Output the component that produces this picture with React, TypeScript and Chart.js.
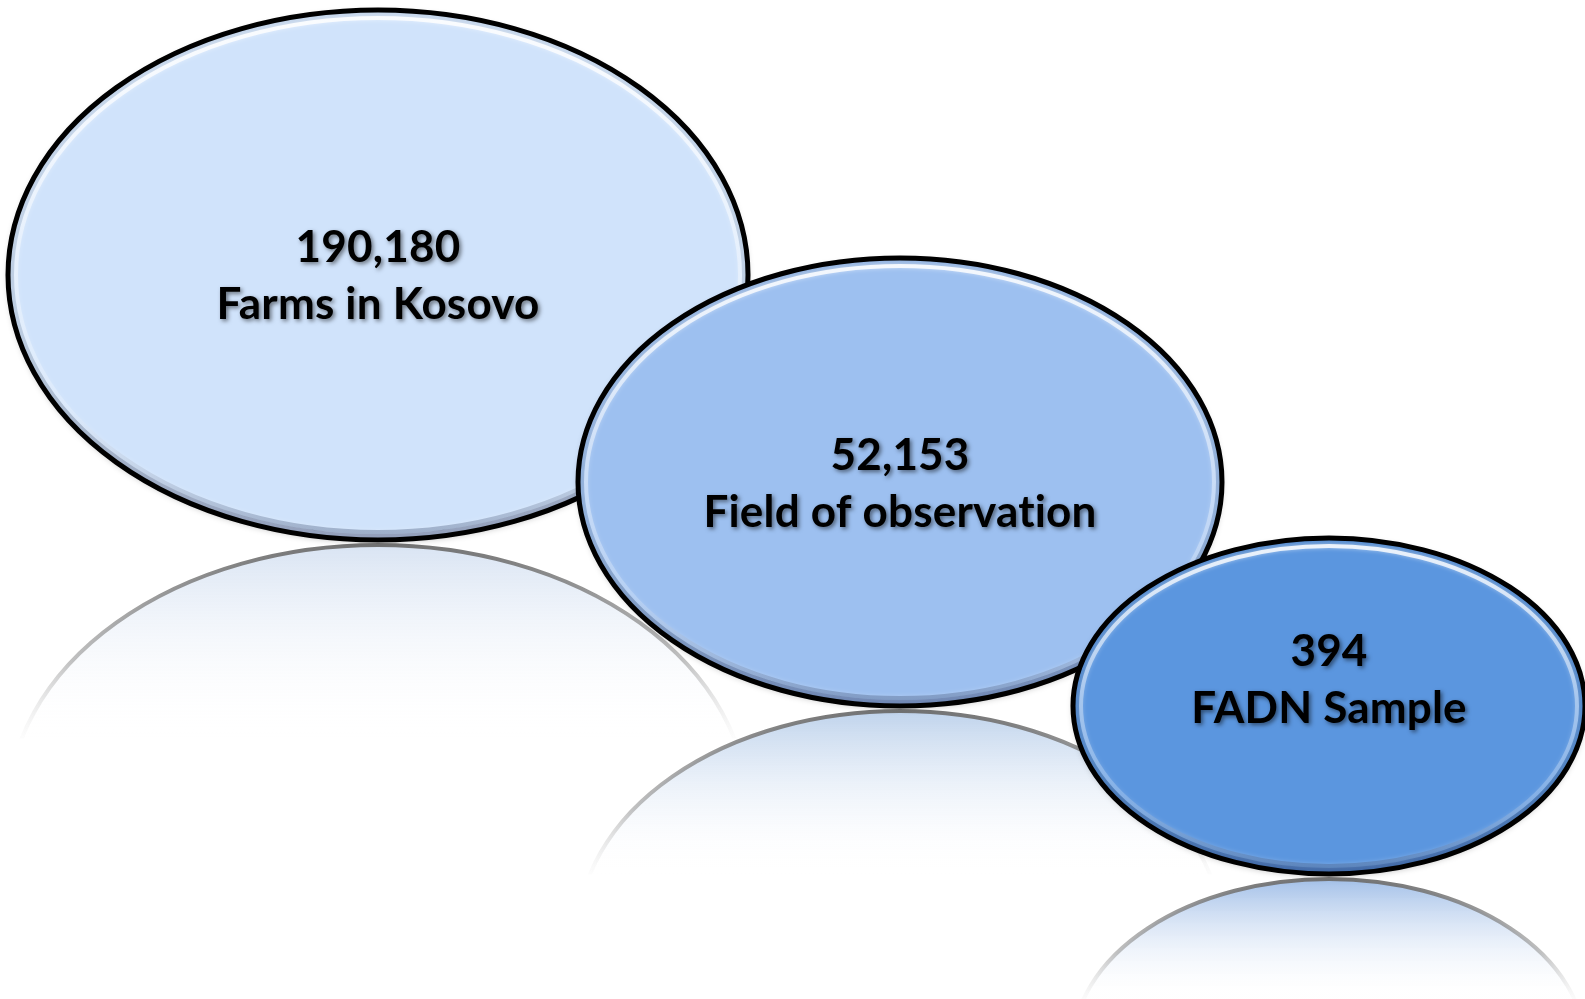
import React, { useEffect, useRef } from "react";
import { Chart, registerables } from "chart.js";

Chart.register(...registerables);

// ---- data ----
const categories = ["Farms in Kosovo", "Field of observation", "FADN Sample"];
const farmCounts = [190180, 52153, 394];
// ellipse geometry in data units of the hidden linear scales
const centerX = [378, 900, 1329];
const centerY = [275, 482, 706];
const radiusX = [370, 322, 256];
const radiusY = [265, 224, 168];
const labelCenterY = [276, 484, 680];
const fillColors = ["#d0e3fb", "#9dc0f0", "#5b96df"];
const reflectColors = ["#d9e4f3", "#bfd3ec", "#a3c0e8"];

const X_MAX = 1585;
const Y_MAX = 999;

const ellipsePlugin = {
  id: "ellipseDiagram",
  afterDatasetsDraw(chart: any) {
    const ctx: CanvasRenderingContext2D = chart.ctx;
    const xs = chart.scales.x;
    const ys = chart.scales.y;
    const geo = categories.map((_, i) => {
      const cx = xs.getPixelForValue(centerX[i]);
      const cy = ys.getPixelForValue(centerY[i]);
      const rx = Math.abs(xs.getPixelForValue(centerX[i] + radiusX[i]) - cx);
      const ry = Math.abs(ys.getPixelForValue(centerY[i] + radiusY[i]) - cy);
      const ly = ys.getPixelForValue(labelCenterY[i]);
      return { cx, cy, rx, ry, ly };
    });

    // reflections
    geo.forEach((g, i) => {
      const top = g.cy + g.ry + 5;
      const len = g.ry * 0.73;
      const rcy = top + g.ry;
      ctx.save();
      ctx.beginPath();
      ctx.rect(0, top - 4, chart.width, len + 4);
      ctx.clip();
      const grad = ctx.createLinearGradient(0, top, 0, top + len);
      grad.addColorStop(0, reflectColors[i]);
      grad.addColorStop(1, "rgba(255,255,255,0)");
      ctx.beginPath();
      ctx.ellipse(g.cx, rcy, g.rx, g.ry, 0, 0, Math.PI * 2);
      ctx.fillStyle = grad;
      ctx.fill();
      const sgrad = ctx.createLinearGradient(0, top, 0, top + len);
      sgrad.addColorStop(0, "rgba(110,110,110,0.95)");
      sgrad.addColorStop(0.6, "rgba(160,160,160,0.65)");
      sgrad.addColorStop(1, "rgba(230,230,230,0.1)");
      ctx.lineWidth = 4;
      ctx.strokeStyle = sgrad;
      ctx.stroke();
      ctx.restore();
    });

    // ellipses
    geo.forEach((g, i) => {
      ctx.save();
      ctx.beginPath();
      ctx.ellipse(g.cx, g.cy, g.rx, g.ry, 0, 0, Math.PI * 2);
      ctx.shadowColor = "rgba(0,0,0,0.25)";
      ctx.shadowBlur = 6;
      ctx.shadowOffsetY = 2;
      ctx.fillStyle = fillColors[i];
      ctx.fill();
      ctx.restore();

      // bevel ring
      ctx.save();
      ctx.beginPath();
      ctx.ellipse(g.cx, g.cy, g.rx, g.ry, 0, 0, Math.PI * 2);
      ctx.clip();
      const bg = ctx.createLinearGradient(0, g.cy - g.ry, 0, g.cy + g.ry);
      bg.addColorStop(0, "rgba(255,255,255,0.85)");
      bg.addColorStop(0.45, "rgba(255,255,255,0.4)");
      bg.addColorStop(0.75, "rgba(255,255,255,0.2)");
      bg.addColorStop(1, "rgba(40,60,100,0.35)");
      ctx.beginPath();
      ctx.ellipse(g.cx, g.cy, g.rx - 8, g.ry - 8, 0, 0, Math.PI * 2);
      ctx.lineWidth = 4;
      ctx.strokeStyle = bg;
      ctx.shadowColor = "rgba(255,255,255,0.6)";
      ctx.shadowBlur = 4;
      ctx.stroke();
      const dg = ctx.createLinearGradient(0, g.cy - g.ry, 0, g.cy + g.ry);
      dg.addColorStop(0, "rgba(0,0,0,0.06)");
      dg.addColorStop(0.6, "rgba(0,0,0,0.1)");
      dg.addColorStop(1, "rgba(0,0,40,0.3)");
      ctx.beginPath();
      ctx.ellipse(g.cx, g.cy, g.rx - 3, g.ry - 3, 0, 0, Math.PI * 2);
      ctx.lineWidth = 6;
      ctx.strokeStyle = dg;
      ctx.shadowBlur = 0;
      ctx.stroke();
      ctx.restore();

      // border
      ctx.save();
      ctx.beginPath();
      ctx.ellipse(g.cx, g.cy, g.rx, g.ry, 0, 0, Math.PI * 2);
      ctx.lineWidth = 5;
      ctx.strokeStyle = "#000";
      ctx.stroke();
      ctx.restore();

      // labels
      ctx.save();
      ctx.font = "bold 44px Lato, 'Open Sans', sans-serif";
      (ctx as any).letterSpacing = "0.2px";
      ctx.textAlign = "center";
      ctx.textBaseline = "middle";
      ctx.fillStyle = "#000";
      ctx.shadowColor = "rgba(0,0,0,0.5)";
      ctx.shadowBlur = 4;
      ctx.shadowOffsetX = 2;
      ctx.shadowOffsetY = 2;
      ctx.fillText(farmCounts[i].toLocaleString("en-US"), g.cx, g.ly - 28);
      ctx.fillText(categories[i], g.cx, g.ly + 29);
      ctx.restore();
    });
  },
};

export default function App() {
  const canvasRef = useRef<HTMLCanvasElement | null>(null);
  useEffect(() => {
    document.body.style.margin = "0";
    const canvas = canvasRef.current;
    if (!canvas) return;
    const chart = new Chart(canvas, {
      type: "scatter",
      data: {
        datasets: [
          {
            label: "Farms",
            data: categories.map((_, i) => ({ x: centerX[i], y: centerY[i] })),
            pointRadius: 0,
            pointHoverRadius: 0,
          },
        ],
      },
      options: {
        animation: false,
        responsive: true,
        maintainAspectRatio: false,
        layout: { padding: 0 },
        events: [],
        plugins: { legend: { display: false }, tooltip: { enabled: false } },
        scales: {
          x: { type: "linear", min: 0, max: X_MAX, display: false },
          y: { type: "linear", min: 0, max: Y_MAX, reverse: true, display: false },
        },
      },
      plugins: [ellipsePlugin],
    });
    return () => chart.destroy();
  }, []);
  return (
    <div style={{ position: "fixed", left: 0, top: 0, width: "1585px", height: "999px", background: "#fff" }}>
      <canvas ref={canvasRef} />
    </div>
  );
}
